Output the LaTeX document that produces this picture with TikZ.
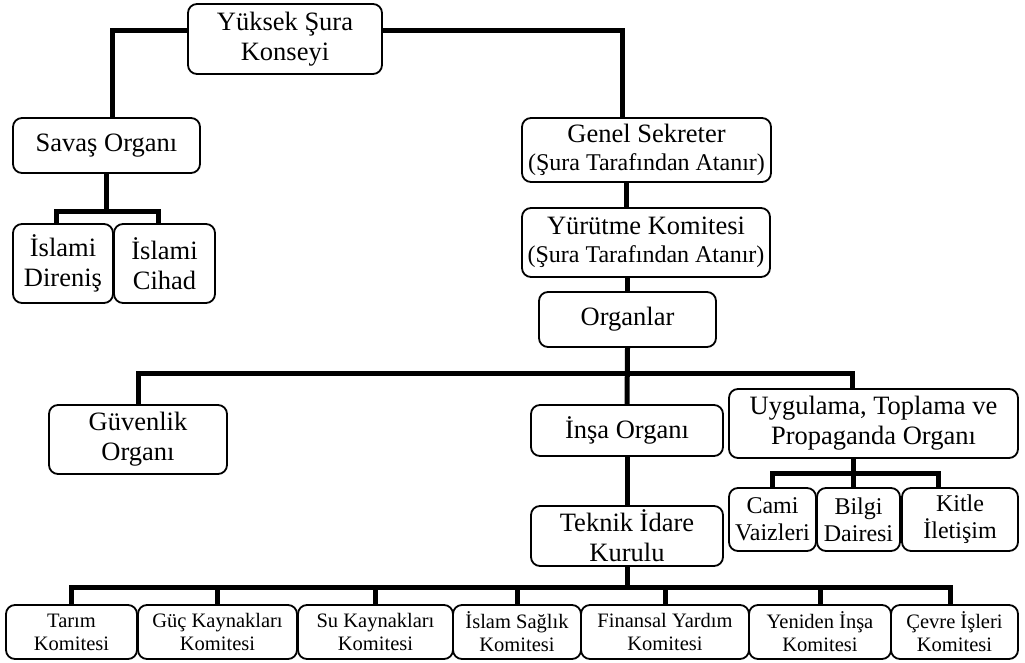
\documentclass[tikz,border=0pt]{standalone}
\usepackage{fontspec}
\setmainfont{Liberation Serif}
\newcommand{\bigtxt}{\fontsize{26.5}{30}\selectfont}
\newcommand{\midtxt}{\fontsize{24}{27}\selectfont}
\newcommand{\smalltxt}{\fontsize{20.5}{23}\selectfont}
\begin{document}
\begin{tikzpicture}[x=1pt,y=-1pt,
  box/.style={draw, rounded corners=9pt, line width=1.8pt, inner sep=0pt, align=center, font=\bigtxt},
  midbox/.style={box, font=\midtxt},
  combox/.style={box, font=\smalltxt, minimum height=54pt},
  bar/.style={line width=5pt}]
\useasboundingbox (0,0) rectangle (1025,662);
\node[box, minimum width=194pt, minimum height=70pt] (yuksek) at (285,39) {Yüksek Şura\\Konseyi};
\node[box, minimum width=187pt, minimum height=55pt] (savas) at (106.5,145.5) {Savaş Organı};
\node[box, minimum width=100pt, minimum height=79pt] (direnis) at (63,263.5) {İslami\\Direniş};
\node[box, minimum width=101pt, minimum height=79pt] (cihad) at (164.5,263.5) {İslami\\Cihad};
\node[box, minimum width=249pt, minimum height=64pt] (genel) at (646.5,150) {Genel Sekreter\\[-2pt]{\midtxt(Şura Tarafından Atanır)}};
\node[box, minimum width=248pt, minimum height=69pt] (yurutme) at (646,242.5) {Yürütme Komitesi\\[-2pt]{\midtxt(Şura Tarafından Atanır)}};
\node[box, minimum width=177pt, minimum height=55pt] (organlar) at (627.5,319.5) {Organlar};
\node[box, minimum width=178pt, minimum height=69pt] (guvenlik) at (138,439.5) {Güvenlik\\Organı};
\node[box, minimum width=192pt, minimum height=51pt] (insa) at (627,430.5) {İnşa Organı};
\node[box, minimum width=289pt, minimum height=69pt] (uygulama) at (873.5,423.5) {Uygulama, Toplama ve\\Propaganda Organı};
\node[box, minimum width=192pt, minimum height=60pt] (teknik) at (627,536) {Teknik İdare\\Kurulu};
\node[midbox, minimum width=87pt, minimum height=63pt] (cami) at (772.5,519.5) {Cami\\Vaizleri};
\node[midbox, minimum width=83pt, minimum height=63pt] (bilgi) at (858.5,519.5) {Bilgi\\Dairesi};
\node[midbox, minimum width=116pt, minimum height=63pt] (kitle) at (960,519.5) {Kitle\\İletişim};
\node[combox, minimum width=131pt] (tarim) at (71.5,632) {Tarım\\Komitesi};
\node[combox, minimum width=159pt] (guc) at (217.5,632) {Güç Kaynakları\\Komitesi};
\node[combox, minimum width=155pt] (su) at (375.5,632) {Su Kaynakları\\Komitesi};
\node[combox, minimum width=128pt] (saglik) at (517,632) {İslam Sağlık\\Komitesi};
\node[combox, minimum width=168pt] (finans) at (665,632) {Finansal Yardım\\Komitesi};
\node[combox, minimum width=142pt] (yeniden) at (820,632) {Yeniden İnşa\\Komitesi};
\node[combox, minimum width=127pt] (cevre) at (954.5,632) {Çevre İşleri\\Komitesi};
\draw[bar] ([yshift=9pt]yuksek.west) -| ([xshift=5.5pt]savas.north);
\draw[bar] ([yshift=9pt]yuksek.east) -| ([xshift=-24.5pt]genel.north);
\draw[bar] (savas.south) -- ++(0,38) coordinate (sb);
\draw[bar] ([xshift=-7pt]direnis.north) |- (sb) -| ([xshift=-6.5pt]cihad.north);
\draw[bar] ([xshift=-20.5pt]genel.south) -- ([xshift=-20pt]yurutme.north);
\draw[bar] (organlar.north |- yurutme.south) -- (organlar.north);
\draw[bar] (organlar.south) -- (insa.north);
\draw[bar] (organlar.south) -- ++(0,26) coordinate (ob);
\draw[bar] (guvenlik.north) |- (ob) -| ([xshift=-21.5pt]uygulama.north);
\draw[bar] (insa.south) -- (teknik.north);
\draw[bar] ([xshift=-20.5pt]uygulama.south) -- ++(0,15) coordinate (ub);
\draw[bar] (cami.north) |- (ub) -| ([xshift=-22pt]kitle.north);
\draw[bar] (ub) -- (ub |- bilgi.north);
\draw[bar] (teknik.south) -- ++(0,21) coordinate (tb);
\draw[bar] (tarim.north) |- (tb) -| ([xshift=-4.5pt]cevre.north);
\draw[bar] (guc.north) -- (guc.north |- tb);
\draw[bar] (su.north) -- (su.north |- tb);
\draw[bar] (saglik.north) -- (saglik.north |- tb);
\draw[bar] (finans.north) -- (finans.north |- tb);
\draw[bar] (yeniden.north) -- (yeniden.north |- tb);
\end{tikzpicture}
\end{document}
